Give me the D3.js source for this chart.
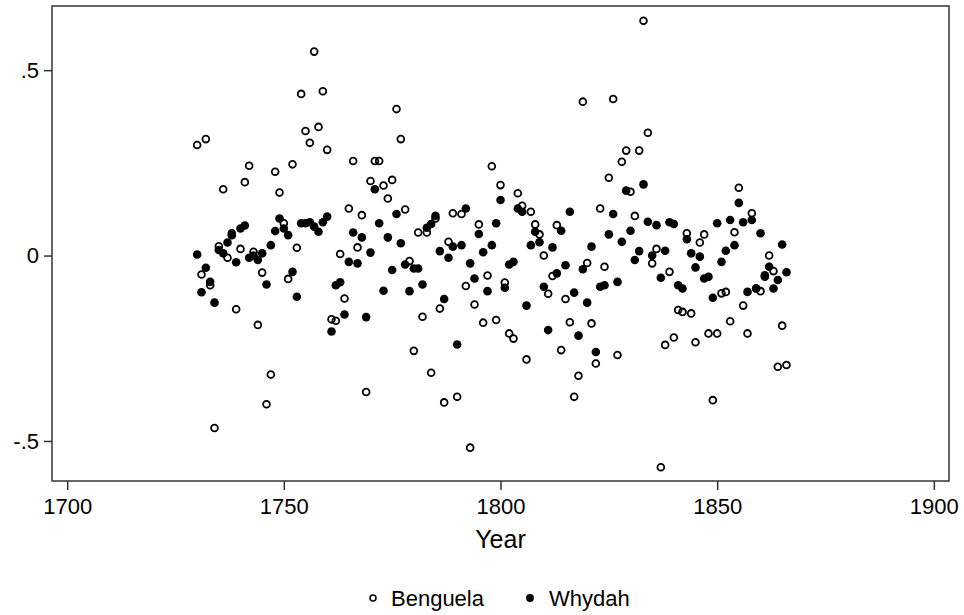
<!DOCTYPE html>
<html>
<head>
<meta charset="utf-8">
<script src="https://cdn.jsdelivr.net/npm/d3@7"></script>
<style>
  body { margin: 0; background: #fff; }
  svg { display: block; font-family: "Liberation Sans", Arial, sans-serif; }
</style>
</head>
<body>
<svg id="chart"></svg>
<script>
const width = 964;
const height = 615;

// years of observation
const years = [
  1730,1731,1732,1733,1734,1735,1736,1737,1738,1739,
  1740,1741,1742,1743,1744,1745,1746,1747,1748,1749,
  1750,1751,1752,1753,1754,1755,1756,1757,1758,1759,
  1760,1761,1762,1763,1764,1765,1766,1767,1768,1769,
  1770,1771,1772,1773,1774,1775,1776,1777,1778,1779,
  1780,1781,1782,1783,1784,1785,1786,1787,1788,1789,
  1790,1791,1792,1793,1794,1795,1796,1797,1798,1799,
  1800,1801,1802,1803,1804,1805,1806,1807,1808,1809,
  1810,1811,1812,1813,1814,1815,1816,1817,1818,1819,
  1820,1821,1822,1823,1824,1825,1826,1827,1828,1829,
  1830,1831,1832,1833,1834,1835,1836,1837,1838,1839,
  1840,1841,1842,1843,1844,1845,1846,1847,1848,1849,
  1850,1851,1852,1853,1854,1855,1856,1857,1858,1859,
  1860,1861,1862,1863,1864,1865,1866
];

// Benguela (hollow circles)
const benguela = [
  0.298,-0.051,0.314,-0.080,-0.465,0.025,0.179,-0.006,0.060,-0.145,
  0.018,0.198,0.242,0.010,-0.187,-0.046,-0.401,-0.321,0.226,0.170,
  0.087,-0.063,0.246,0.021,0.436,0.336,0.304,0.550,0.347,0.443,
  0.285,-0.172,-0.176,0.004,-0.116,0.127,0.255,0.022,0.109,-0.368,
  0.201,0.255,0.255,0.189,0.154,0.204,0.395,0.314,0.124,-0.015,
  -0.257,0.062,-0.165,0.062,-0.316,0.100,-0.143,-0.396,0.037,0.114,
  -0.381,0.112,-0.082,-0.518,-0.132,0.084,-0.181,-0.054,0.241,-0.174,
  0.190,-0.073,-0.210,-0.224,0.168,0.134,-0.280,0.118,0.084,0.057,
  0.000,-0.103,-0.055,0.082,-0.255,-0.117,-0.180,-0.381,-0.324,0.415,
  -0.020,-0.183,-0.291,0.127,-0.030,0.210,0.422,-0.268,0.253,0.283,
  0.172,0.107,0.283,0.633,0.331,-0.021,0.018,-0.571,-0.241,-0.044,
  -0.221,-0.147,-0.152,0.060,-0.156,-0.234,0.035,0.057,-0.210,-0.390,
  -0.210,-0.102,-0.098,-0.177,0.063,0.183,-0.135,-0.210,0.114,-0.089,
  -0.096,-0.057,0.000,-0.042,-0.300,-0.189,-0.295
];

// Whydah (filled circles)
const whydah = [
  0.003,-0.099,-0.033,-0.071,-0.127,0.015,0.006,0.035,0.055,-0.018,
  0.073,0.081,-0.006,0.000,-0.012,0.006,-0.078,0.028,0.066,0.100,
  0.073,0.055,-0.044,-0.111,0.087,0.087,0.090,0.078,0.064,0.090,
  0.105,-0.205,-0.080,-0.072,-0.159,-0.017,0.062,-0.021,0.049,-0.166,
  0.008,0.179,0.087,-0.095,0.049,-0.039,0.112,0.033,-0.024,-0.096,
  -0.035,-0.035,-0.078,0.075,0.085,0.107,0.012,-0.117,-0.006,0.024,
  -0.240,0.028,0.127,-0.021,-0.062,0.058,0.009,-0.096,0.028,0.087,
  0.150,-0.087,-0.024,-0.017,0.127,0.118,-0.135,0.028,0.064,0.036,
  -0.084,-0.201,0.022,-0.048,0.067,-0.026,0.118,-0.100,-0.216,-0.037,
  -0.127,0.024,-0.260,-0.084,-0.080,0.057,0.112,-0.071,0.037,0.175,
  0.067,-0.012,0.012,0.192,0.091,0.000,0.082,-0.060,0.013,0.090,
  0.085,-0.080,-0.089,0.044,0.006,-0.032,-0.003,-0.062,-0.057,-0.114,
  0.087,-0.017,0.013,0.096,0.028,0.142,0.090,-0.098,0.096,-0.089,
  0.060,-0.053,-0.030,-0.089,-0.066,0.030,-0.045
];

const xTicks = [1700, 1750, 1800, 1850, 1900];
const yTicks = [-0.5, 0, 0.5];
const yTickLabels = ["-.5", "0", ".5"];

const plot = { left: 52, right: 949, top: 6, bottom: 481 };

let svg = d3.select("#chart")
  .attr("width", width)
  .attr("height", height);

svg.append("rect")
  .attr("width", width)
  .attr("height", height)
  .attr("fill", "#fff");

// шкалы
const scX = d3.scaleLinear()
  .domain([1696.5, 1903.5])
  .range([plot.left, plot.right]);

const scY = d3.scaleLinear()
  .domain([-0.608, 0.673])
  .range([plot.bottom, plot.top]);

// оси
let axisX = d3.axisBottom(scX)
  .tickValues(xTicks)
  .tickFormat(d3.format("d"))
  .tickSize(9)
  .tickPadding(8);

let axisY = d3.axisLeft(scY)
  .tickValues(yTicks)
  .tickFormat((d, i) => yTickLabels[i])
  .tickSize(8)
  .tickPadding(5);

let gx = svg.append("g")
  .attr("transform", `translate(0, ${plot.bottom})`)
  .call(axisX);
gx.select(".domain").remove();
gx.selectAll("line").attr("stroke", "#333").attr("stroke-width", 1.5);
gx.selectAll("text")
  .attr("fill", "#000")
  .style("font-size", "22px");

let gy = svg.append("g")
  .attr("transform", `translate(${plot.left}, 0)`)
  .call(axisY);
gy.select(".domain").remove();
gy.selectAll("line").attr("stroke", "#333").attr("stroke-width", 1.5);
gy.selectAll("text")
  .attr("fill", "#000")
  .style("font-size", "22px");

// рамка
svg.append("rect")
  .attr("x", plot.left)
  .attr("y", plot.top)
  .attr("width", plot.right - plot.left)
  .attr("height", plot.bottom - plot.top)
  .attr("fill", "none")
  .attr("stroke", "#333")
  .attr("stroke-width", 1.5);

// точки
const r = 3.4;
svg.append("g")
  .selectAll("circle")
  .data(years.map((y, i) => ({ year: y, value: benguela[i] })))
  .enter()
  .append("circle")
  .attr("cx", d => scX(d.year))
  .attr("cy", d => scY(d.value))
  .attr("r", r)
  .attr("fill", "none")
  .attr("stroke", "#000")
  .attr("stroke-width", 1.8);

svg.append("g")
  .selectAll("circle")
  .data(years.map((y, i) => ({ year: y, value: whydah[i] })))
  .enter()
  .append("circle")
  .attr("cx", d => scX(d.year))
  .attr("cy", d => scY(d.value))
  .attr("r", r + 0.9)
  .attr("fill", "#000");

// подпись оси X
svg.append("text")
  .attr("x", (plot.left + plot.right) / 2)
  .attr("y", 548)
  .attr("text-anchor", "middle")
  .style("font-size", "25px")
  .text("Year");

// легенда
const legend = svg.append("g");
legend.append("circle")
  .attr("cx", 373).attr("cy", 598).attr("r", 3)
  .attr("fill", "none").attr("stroke", "#000").attr("stroke-width", 1.5);
legend.append("text")
  .attr("x", 391).attr("y", 606)
  .style("font-size", "22px")
  .text("Benguela");
legend.append("circle")
  .attr("cx", 530).attr("cy", 598).attr("r", 3.9)
  .attr("fill", "#000");
legend.append("text")
  .attr("x", 549).attr("y", 606)
  .style("font-size", "22px")
  .text("Whydah");
</script>
</body>
</html>
